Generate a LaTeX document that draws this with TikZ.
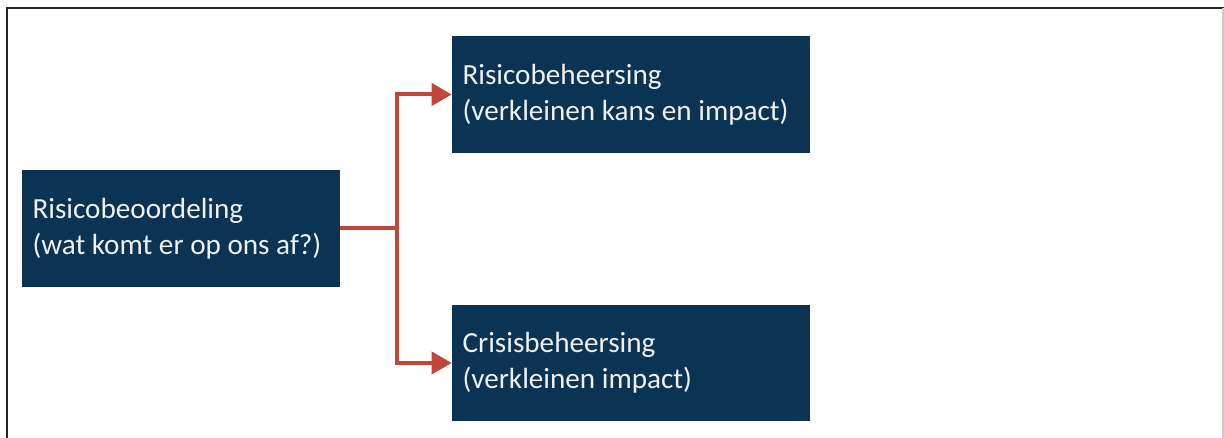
\documentclass[tikz,border=0pt]{standalone}
\usepackage{fontspec}
\setmainfont{Carlito}
\usetikzlibrary{positioning}
\usetikzlibrary{arrows.meta}
\definecolor{navy}{HTML}{0B3354}
\definecolor{arrowred}{HTML}{C0473B}
\definecolor{boxtext}{HTML}{EEF2F4}
\tikzset{x=0.02cm, y=-0.02cm,
box/.style={ % Dark blocks with light text
rectangle,
fill=navy,
text=boxtext,
align=flush left,
font=\fontsize{16.6}{20.5}\selectfont,
minimum height=2.34cm,
inner xsep=0.21cm},
link/.style={ % Red connectors
draw=arrowred,
line width=0.08cm,
-{Triangle[length=0.4cm,width=0.44cm]}}}

\begin{document}
\begin{tikzpicture}
	\useasboundingbox (0,0) rectangle (1224,438);
	\draw[black!85, line width=0.04cm] (7,438) -- (7,8) -- (1224,8);
	\draw[black!20, line width=0.03cm] (1223,8) -- (1223,438);
	\node[box, text width=5.94cm] (risk) at (181,228.5) {Risicobeoordeling\\(wat komt er op ons af?)};
	\node[box, text width=6.74cm] (manage) at (631,94.5) {Risicobeheersing\\(verkleinen kans en impact)};
	\node[box, text width=6.74cm] (crisis) at (631,363) {Crisisbeheersing\\(verkleinen impact)};
	\coordinate (fork) at (397,228.5);
	\draw[link, -] (risk.east) -- (fork);
	\draw[link] (fork) |- (manage.west);
	\draw[link] (fork) |- (crisis.west);
\end{tikzpicture}
\end{document}
